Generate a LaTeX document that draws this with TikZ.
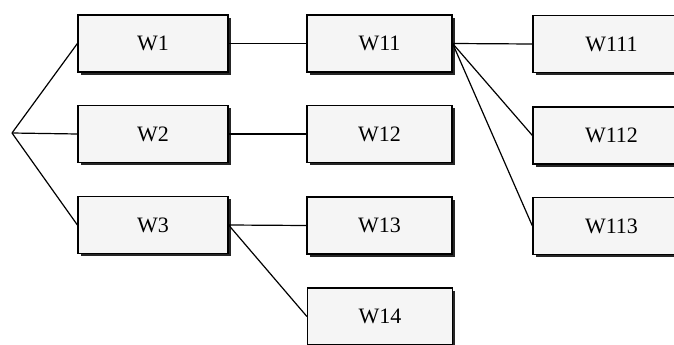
\documentclass[tikz,border=0pt]{standalone}
\usepackage{fontspec}
\setmainfont{Liberation Serif}
\usetikzlibrary{shadows}
\begin{document}
\begin{tikzpicture}[x=1pt,y=-1pt,
  wbox/.style={draw=black, line width=1.2pt, fill=black!4, rectangle, inner sep=0pt,
    minimum height=57pt, font=\fontsize{22}{24}\selectfont,
    drop shadow={shadow xshift=2.8pt, shadow yshift=-2.8pt, fill=black!85, opacity=1}},
  cola/.style={wbox, minimum width=150pt},
  colb/.style={wbox, minimum width=145pt},
  colc/.style={wbox, minimum width=157pt},
  link/.style={draw=black, line width=1.2pt}]
\useasboundingbox (0,0) rectangle (674,345);
\coordinate (v) at (12,133);
\node[cola] (w1) at (153,43.5) {W1};
\node[cola] (w2) at (153,134) {W2};
\node[cola] (w3) at (153,225) {W3};
\node[colb] (w11) at (379.5,43.5) {W11};
\node[colb] (w12) at (379.5,134) {W12};
\node[colb] (w13) at (379.5,225.5) {W13};
\node[colb] (w14) at (380,316.5) {W14};
\node[colc] (w111) at (611.5,44) {W111};
\node[colc] (w112) at (611.5,135.5) {W112};
\node[colc] (w113) at (611.5,226) {W113};
\draw[link] (v) -- (w1.west);
\draw[link] (v) -- (w2.west);
\draw[link] (v) -- (w3.west);
\draw[link] (w1.east) -- (w11.west);
\draw[link] (w2.east) -- (w12.west);
\draw[link] (w3.east) -- (w13.west);
\draw[link] (w3.east) -- (w14.west);
\draw[link] (w11.east) -- (w111.west);
\draw[link] (w11.east) -- (w112.west);
\draw[link] (w11.east) -- (w113.west);
\end{tikzpicture}
\end{document}
